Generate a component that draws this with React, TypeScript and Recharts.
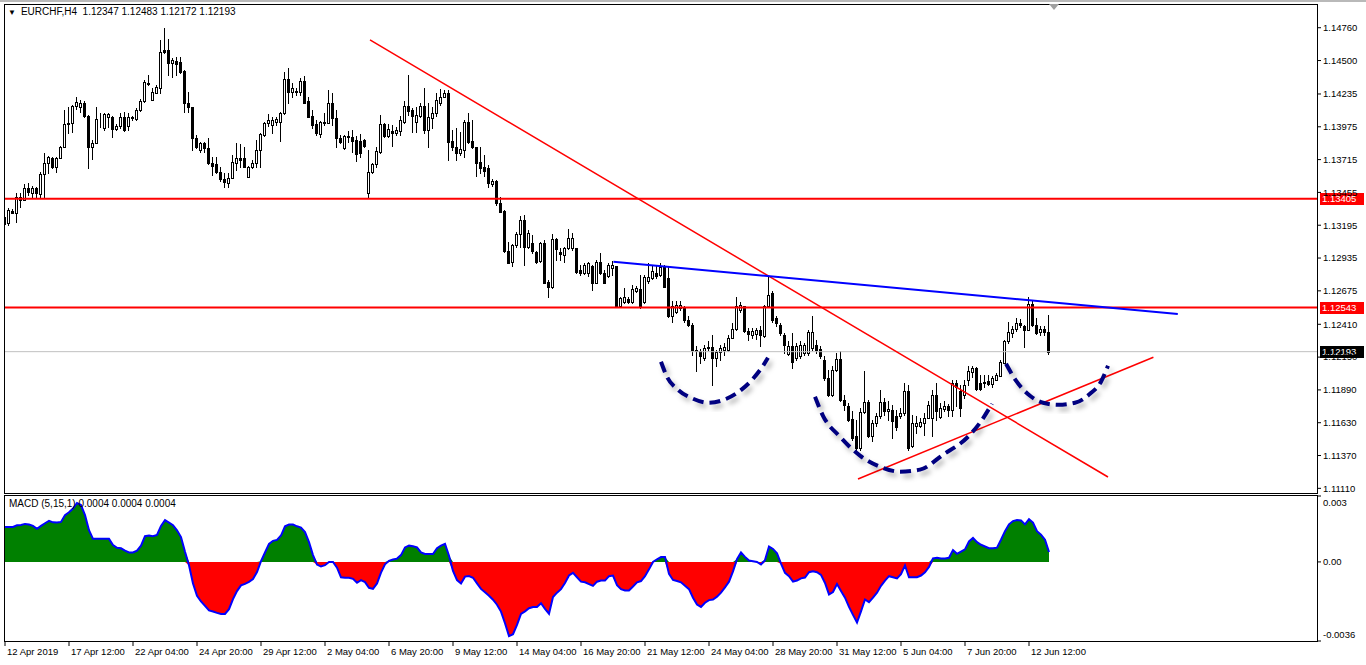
import React from "react";
import { ComposedChart, Bar, Line, Area, XAxis, YAxis, ReferenceLine } from "recharts";

const FONT = "'Liberation Sans', Arial, sans-serif";
const FS = 9.5;

// EURCHF H4 candles, bar 0 = 12 Apr 2019 20:00
const OPEN = [
  1.13206, 1.13211, 1.13311, 1.13295, 1.13422, 1.13396, 1.13489, 1.13451, 1.13491, 1.13444,
  1.13602, 1.13687, 1.13726, 1.13655, 1.13726, 1.13818, 1.14003, 1.14003, 1.14143, 1.1413,
  1.14162, 1.14061, 1.13813, 1.13845, 1.14035, 1.13964, 1.14051, 1.14051, 1.13956, 1.13982,
  1.14051, 1.13982, 1.14043, 1.14035, 1.14109, 1.14182, 1.14325, 1.14188, 1.14246, 1.14285,
  1.14584, 1.14584, 1.14479, 1.14497, 1.14491, 1.1442, 1.14162, 1.1413, 1.13885, 1.13792,
  1.13845, 1.13805, 1.13687, 1.13681, 1.13615, 1.13562, 1.13533, 1.13568, 1.13691, 1.13726,
  1.13726, 1.13581, 1.13655, 1.13691, 1.13792, 1.13911, 1.14003, 1.1399, 1.14016, 1.14016,
  1.14083, 1.14352, 1.14254, 1.14259, 1.14249, 1.14341, 1.1418, 1.14061, 1.13998, 1.13919,
  1.14016, 1.14008, 1.14162, 1.14043, 1.13885, 1.13805, 1.13903, 1.13897, 1.13871, 1.13866,
  1.13871, 1.13449, 1.13615, 1.13679, 1.13779, 1.13996, 1.13903, 1.13942, 1.13924, 1.13945,
  1.14016, 1.1414, 1.14109, 1.14016, 1.14061, 1.1414, 1.1395, 1.14048, 1.14083, 1.14162,
  1.14209, 1.14246, 1.13863, 1.13813, 1.13766, 1.13792, 1.14016, 1.13863, 1.13813, 1.13699,
  1.1366, 1.13647, 1.13523, 1.13546, 1.1337, 1.13309, 1.12987, 1.12907, 1.1304, 1.13127,
  1.13238, 1.13021, 1.13053, 1.12979, 1.12915, 1.13058, 1.12749, 1.12709, 1.13085, 1.12979,
  1.1296, 1.13013, 1.13013, 1.13013, 1.12842, 1.12815, 1.1282, 1.12868, 1.12741, 1.12907,
  1.1282, 1.12789, 1.12855, 1.12868, 1.12556, 1.12583, 1.1261, 1.12583, 1.1267, 1.12689,
  1.12583, 1.12754, 1.12776, 1.1282, 1.12802, 1.12868, 1.12776, 1.12472, 1.12511, 1.12538,
  1.12538, 1.12446, 1.12406, 1.12208, 1.12202, 1.12142, 1.12221, 1.12229, 1.12142, 1.12187,
  1.12208, 1.12208, 1.12305, 1.12372, 1.12525, 1.12551, 1.12358, 1.12327, 1.12335, 1.12366,
  1.12319, 1.12551, 1.12657, 1.12459, 1.12406, 1.12327, 1.12176, 1.12234, 1.12142, 1.12155,
  1.12182, 1.12182, 1.12221, 1.12248, 1.12213, 1.12129, 1.11984, 1.11852, 1.1205, 1.12134,
  1.11812, 1.11764, 1.11659, 1.11521, 1.11429, 1.11711, 1.11791, 1.11527, 1.11627, 1.11685,
  1.11791, 1.11719, 1.11727, 1.11685, 1.1168, 1.11707, 1.11878, 1.11442, 1.11601, 1.11601,
  1.11627, 1.11667, 1.11667, 1.11852, 1.11675, 1.11738, 1.11759, 1.11733, 1.11944, 1.11878,
  1.11852, 1.1197, 1.12028, 1.12063, 1.11944, 1.11955, 1.11957, 1.11939, 1.1197, 1.12002,
  1.12107, 1.12274, 1.1234, 1.12372, 1.12419, 1.12393, 1.12366, 1.12572, 1.12406, 1.12345,
  1.12372, 1.12347,
];

const HIGH = [
  1.13303, 1.13333, 1.13325, 1.13451, 1.13451, 1.13523, 1.13531, 1.13509, 1.13501, 1.1362,
  1.13766, 1.13744, 1.13739, 1.13739, 1.13824, 1.14109, 1.14135, 1.14148, 1.14209, 1.14188,
  1.14182, 1.14069, 1.13871, 1.1413, 1.14083, 1.14083, 1.14083, 1.14061, 1.13998, 1.14087,
  1.14095, 1.14087, 1.14061, 1.14122, 1.14194, 1.14346, 1.14386, 1.14281, 1.14307, 1.14663,
  1.14756, 1.14669, 1.14518, 1.14531, 1.14531, 1.14426, 1.14254, 1.1413, 1.13911, 1.13858,
  1.13858, 1.13885, 1.13739, 1.13739, 1.1366, 1.13612, 1.13612, 1.13752, 1.13845, 1.13837,
  1.13818, 1.13665, 1.13713, 1.13871, 1.13929, 1.14016, 1.14077, 1.14056, 1.14051, 1.14095,
  1.14412, 1.14439, 1.1432, 1.14281, 1.1436, 1.14378, 1.14214, 1.14109, 1.1403, 1.14024,
  1.14083, 1.14267, 1.14241, 1.14109, 1.13911, 1.13911, 1.13945, 1.1395, 1.13903, 1.13919,
  1.13877, 1.13792, 1.13691, 1.13818, 1.14069, 1.14003, 1.13998, 1.1399, 1.13977, 1.14061,
  1.1418, 1.14386, 1.14122, 1.14135, 1.14162, 1.14281, 1.14162, 1.1413, 1.14241, 1.14275,
  1.14267, 1.14267, 1.1395, 1.13964, 1.13937, 1.1403, 1.14083, 1.1403, 1.13818, 1.13818,
  1.13752, 1.13673, 1.1356, 1.13554, 1.13417, 1.13317, 1.13066, 1.13048, 1.13145, 1.13269,
  1.13277, 1.13158, 1.13119, 1.12987, 1.13066, 1.13079, 1.12762, 1.13127, 1.13093, 1.13013,
  1.13026, 1.13164, 1.13132, 1.13018, 1.12881, 1.12895, 1.12907, 1.12881, 1.12921, 1.12974,
  1.12842, 1.12895, 1.12915, 1.12873, 1.1263, 1.12697, 1.12625, 1.12723, 1.12715, 1.12802,
  1.12802, 1.12897, 1.12873, 1.12881, 1.12895, 1.12881, 1.12868, 1.12591, 1.12591, 1.12591,
  1.12551, 1.12472, 1.12419, 1.12234, 1.12213, 1.12248, 1.12274, 1.12327, 1.12208, 1.12248,
  1.12261, 1.12327, 1.12419, 1.1263, 1.12583, 1.12551, 1.1238, 1.1238, 1.1238, 1.12393,
  1.12564, 1.12789, 1.1267, 1.12472, 1.12419, 1.1234, 1.12274, 1.1234, 1.12261, 1.12274,
  1.12261, 1.12366, 1.12472, 1.12287, 1.12234, 1.12155, 1.1205, 1.12076, 1.12182, 1.12195,
  1.11852, 1.11786, 1.11719, 1.11654, 1.11746, 1.12036, 1.11812, 1.11654, 1.11707, 1.11891,
  1.11825, 1.11799, 1.11772, 1.11733, 1.11746, 1.11944, 1.11931, 1.11693, 1.1168, 1.11667,
  1.11707, 1.11799, 1.11891, 1.11944, 1.11786, 1.11799, 1.1178, 1.1197, 1.1197, 1.11931,
  1.1197, 1.12076, 1.12081, 1.12071, 1.1201, 1.1201, 1.1201, 1.11997, 1.12023, 1.12129,
  1.12287, 1.12432, 1.12398, 1.12459, 1.12451, 1.12406, 1.1263, 1.12604, 1.12459, 1.12393,
  1.12398, 1.12483,
];

const LOW = [
  1.13185, 1.13198, 1.13293, 1.13222, 1.13343, 1.13396, 1.13436, 1.13412, 1.13412, 1.13409,
  1.13422, 1.13607, 1.13647, 1.1362, 1.13726, 1.13818, 1.13924, 1.13932, 1.14114, 1.14095,
  1.14056, 1.13647, 1.13718, 1.13845, 1.13972, 1.1395, 1.13977, 1.13893, 1.1395, 1.13964,
  1.13945, 1.1395, 1.1403, 1.1403, 1.14103, 1.14175, 1.14307, 1.14188, 1.14241, 1.14241,
  1.14558, 1.14386, 1.14373, 1.14386, 1.14399, 1.14095, 1.14095, 1.13792, 1.13805, 1.13779,
  1.13779, 1.13681, 1.13594, 1.13607, 1.13549, 1.13501, 1.13501, 1.13568, 1.13634, 1.1366,
  1.13655, 1.13581, 1.13647, 1.1366, 1.1366, 1.13903, 1.13982, 1.13924, 1.1399, 1.13866,
  1.14077, 1.14162, 1.14214, 1.14228, 1.14228, 1.14162, 1.14051, 1.13964, 1.13911, 1.13893,
  1.1399, 1.14003, 1.1399, 1.13818, 1.13845, 1.13798, 1.13858, 1.13779, 1.13707, 1.13739,
  1.13818, 1.13409, 1.13607, 1.1366, 1.13771, 1.13897, 1.13893, 1.13824, 1.13911, 1.13911,
  1.14003, 1.14069, 1.13937, 1.13937, 1.14056, 1.13924, 1.13818, 1.13964, 1.14061, 1.14148,
  1.14209, 1.13713, 1.13792, 1.13713, 1.13752, 1.13734, 1.1385, 1.13805, 1.13586, 1.13612,
  1.13586, 1.13497, 1.13507, 1.13356, 1.13303, 1.12979, 1.12895, 1.12868, 1.13026, 1.13026,
  1.12876, 1.13013, 1.12974, 1.12895, 1.12907, 1.12736, 1.12625, 1.12697, 1.12921, 1.12921,
  1.12907, 1.13006, 1.13, 1.1282, 1.12802, 1.1281, 1.12789, 1.12678, 1.12736, 1.1281,
  1.12736, 1.12784, 1.12802, 1.12551, 1.12546, 1.12578, 1.12578, 1.12578, 1.12662, 1.12538,
  1.12578, 1.12739, 1.12768, 1.12776, 1.12789, 1.12705, 1.12467, 1.12432, 1.12499, 1.12525,
  1.12432, 1.12393, 1.12168, 1.12036, 1.12103, 1.12129, 1.12208, 1.11931, 1.12076, 1.12129,
  1.12168, 1.12202, 1.12298, 1.12366, 1.12511, 1.12345, 1.12287, 1.12301, 1.12295, 1.12234,
  1.12313, 1.12546, 1.12432, 1.12393, 1.12327, 1.12182, 1.12168, 1.12063, 1.12129, 1.12142,
  1.12168, 1.12168, 1.12208, 1.12182, 1.12142, 1.1197, 1.11838, 1.11838, 1.12036, 1.11799,
  1.11733, 1.1164, 1.11495, 1.11416, 1.11416, 1.11707, 1.11517, 1.11482, 1.11601, 1.11667,
  1.11693, 1.11654, 1.11509, 1.11574, 1.11667, 1.11693, 1.11416, 1.11437, 1.11548, 1.11596,
  1.11535, 1.11667, 1.11521, 1.11654, 1.11667, 1.11719, 1.11685, 1.11685, 1.11759, 1.11685,
  1.11825, 1.11931, 1.11992, 1.11891, 1.11891, 1.11917, 1.11931, 1.11917, 1.11965, 1.11997,
  1.12103, 1.12261, 1.12313, 1.12353, 1.12388, 1.12229, 1.12361, 1.12398, 1.12335, 1.12327,
  1.12327, 1.12172,
];

const CLOSE = [
  1.13264, 1.13317, 1.13295, 1.13422, 1.13396, 1.13489, 1.13457, 1.13491, 1.13451, 1.13602,
  1.13687, 1.13734, 1.1366, 1.13726, 1.13818, 1.13996, 1.13996, 1.14143, 1.1417, 1.14162,
  1.14061, 1.13818, 1.13845, 1.14035, 1.14038, 1.14075, 1.14075, 1.13956, 1.13982, 1.14051,
  1.1395, 1.14051, 1.14051, 1.14109, 1.14182, 1.14333, 1.14312, 1.14254, 1.14293, 1.14571,
  1.14571, 1.14479, 1.14505, 1.14471, 1.14412, 1.14162, 1.1413, 1.13885, 1.13818, 1.13845,
  1.13805, 1.13687, 1.13665, 1.1362, 1.1356, 1.13541, 1.13568, 1.13695, 1.13726, 1.13713,
  1.1366, 1.1366, 1.13691, 1.13792, 1.13916, 1.14008, 1.1403, 1.1403, 1.14035, 1.14087,
  1.14352, 1.14254, 1.14281, 1.14249, 1.14341, 1.14167, 1.14056, 1.1399, 1.13924, 1.14016,
  1.14003, 1.14162, 1.14043, 1.13885, 1.13858, 1.13903, 1.13893, 1.13866, 1.1376, 1.13766,
  1.13824, 1.13615, 1.13679, 1.13784, 1.13996, 1.13903, 1.13956, 1.13924, 1.1395, 1.1403,
  1.1414, 1.14101, 1.14061, 1.14069, 1.1414, 1.1395, 1.14051, 1.14083, 1.14188, 1.14209,
  1.14241, 1.13858, 1.13813, 1.13766, 1.13798, 1.14016, 1.13858, 1.13813, 1.13691, 1.13652,
  1.13628, 1.13528, 1.13546, 1.1337, 1.13303, 1.12987, 1.12899, 1.1304, 1.13127, 1.13238,
  1.13026, 1.13132, 1.12987, 1.12907, 1.13058, 1.12741, 1.12709, 1.13085, 1.13006, 1.12966,
  1.13013, 1.13093, 1.13093, 1.12828, 1.12815, 1.12881, 1.12895, 1.12741, 1.12907, 1.12815,
  1.12741, 1.12881, 1.12881, 1.12556, 1.12617, 1.12625, 1.12583, 1.12689, 1.12697, 1.12556,
  1.12784, 1.12784, 1.12834, 1.12789, 1.12863, 1.12709, 1.12472, 1.12551, 1.12564, 1.12564,
  1.12446, 1.12406, 1.12208, 1.12195, 1.12155, 1.12221, 1.12229, 1.12142, 1.1219, 1.12221,
  1.12229, 1.12305, 1.12372, 1.12551, 1.12564, 1.12353, 1.12335, 1.12353, 1.12366, 1.12327,
  1.12551, 1.12644, 1.12446, 1.12419, 1.1234, 1.12248, 1.1224, 1.12115, 1.1224, 1.12248,
  1.12248, 1.12345, 1.12345, 1.12208, 1.12155, 1.11984, 1.11852, 1.1205, 1.12134, 1.11812,
  1.11772, 1.11654, 1.11509, 1.11429, 1.11711, 1.11791, 1.11527, 1.11627, 1.11685, 1.11791,
  1.11719, 1.11738, 1.1164, 1.11596, 1.11707, 1.11878, 1.11429, 1.11627, 1.11627, 1.11632,
  1.11667, 1.11772, 1.11852, 1.11719, 1.11746, 1.11759, 1.11727, 1.11944, 1.11917, 1.11746,
  1.11931, 1.12036, 1.12063, 1.11897, 1.11897, 1.11944, 1.11939, 1.11984, 1.1201, 1.12115,
  1.12274, 1.12345, 1.12372, 1.12419, 1.12406, 1.12366, 1.12572, 1.12406, 1.1234, 1.12372,
  1.12345, 1.12193,
];

// MACD (5,15,1) main line, one value per bar
const MACD = [
  0.00159, 0.00159, 0.00159, 0.00167, 0.00168, 0.00173, 0.0017, 0.00164, 0.00151, 0.00164,
  0.00176, 0.00187, 0.0018, 0.00179, 0.00182, 0.00213, 0.00226, 0.00243, 0.00268, 0.00259,
  0.00213, 0.00144, 0.00105, 0.00105, 0.00105, 0.00105, 0.00105, 0.00077, 0.00064, 0.00062,
  0.00051, 0.00043, 0.00043, 0.00051, 0.00074, 0.00117, 0.0012, 0.00117, 0.00123, 0.00164,
  0.0019, 0.00179, 0.00167, 0.00144, 0.00113, 0.00046, -0.00015, -0.00098, -0.00154, -0.0018,
  -0.002, -0.00221, -0.00226, -0.00232, -0.00237, -0.00237, -0.00215, -0.00169, -0.00133, -0.00107,
  -0.001, -0.00091, -0.00078, -0.00046, 0.00003, 0.00043, 0.00082, 0.00096, 0.001, 0.0012,
  0.00162, 0.0017, 0.0017, 0.00162, 0.00156, 0.00136, 0.0009, 0.00031, -0.00012, -0.00021,
  -0.00015, 0, 0, -0.00026, -0.0007, -0.00072, -0.00072, -0.00077, -0.00095, -0.00083,
  -0.00092, -0.00118, -0.00123, -0.00098, -0.00049, -0.00011, 0.00005, 0.00011, 0.00015, 0.00031,
  0.00066, 0.00074, 0.00071, 0.00066, 0.00043, 0.00036, 0.00036, 0.00036, 0.00062, 0.00074,
  0.00082, 0.00028, -0.00041, -0.00083, -0.00098, -0.00067, -0.00064, -0.00072, -0.00098, -0.00123,
  -0.00138, -0.00154, -0.00172, -0.00195, -0.00226, -0.00279, -0.00338, -0.00329, -0.00287, -0.00237,
  -0.00225, -0.00211, -0.00205, -0.00205, -0.00188, -0.00214, -0.00236, -0.0016, -0.0014, -0.00124,
  -0.00096, -0.00062, -0.0005, -0.0007, -0.0009, -0.00093, -0.00101, -0.00109, -0.0009, -0.00085,
  -0.00085, -0.00065, -0.00062, -0.00106, -0.00124, -0.0013, -0.0013, -0.00112, -0.00093, -0.00087,
  -0.00065, -0.00034, 0, 0.00012, 0.00022, 0.00022, -0.00054, -0.00082, -0.00087, -0.00093,
  -0.00109, -0.00124, -0.00163, -0.00194, -0.00205, -0.00186, -0.00174, -0.00171, -0.00158, -0.0014,
  -0.00116, -0.0009, -0.00043, 0.00012, 0.00043, 0.00023, 0.00006, 0.00003, 0, -0.00012,
  0.00008, 0.0007, 0.00059, 0.00039, -0.00008, -0.0005, -0.00065, -0.0009, -0.00085, -0.00075,
  -0.00071, -0.00047, -0.00043, -0.00047, -0.00059, -0.00096, -0.00148, -0.00137, -0.00101, -0.00132,
  -0.00163, -0.00205, -0.00241, -0.00276, -0.00225, -0.00171, -0.00183, -0.00163, -0.0014, -0.00109,
  -0.00085, -0.00065, -0.0007, -0.00075, -0.00056, -0.00016, -0.0007, -0.0007, -0.0007, -0.00062,
  -0.00047, -0.00023, 0.00016, 0.00019, 0.00016, 0.00016, 0.00019, 0.00054, 0.00037, 0.00047,
  0.00057, 0.00093, 0.00109, 0.0009, 0.00078, 0.0007, 0.00062, 0.00062, 0.00065, 0.00101,
  0.0014, 0.00171, 0.00186, 0.00191, 0.00189, 0.00171, 0.00194, 0.00179, 0.0014, 0.00124,
  0.00101, 0.00045,
];

const TIME_LABELS = [
  "12 Apr 2019", "17 Apr 12:00", "22 Apr 04:00", "24 Apr 20:00", "29 Apr 12:00", "2 May 04:00",
  "6 May 20:00", "9 May 12:00", "14 May 04:00", "16 May 20:00", "21 May 12:00", "24 May 04:00",
  "28 May 20:00", "31 May 12:00", "5 Jun 04:00", "7 Jun 20:00", "12 Jun 12:00",
];
const TIME_TICKS = TIME_LABELS.map((_, k) => k * 16);

const PRICE_TICKS = [
  1.1476, 1.145, 1.14235, 1.13975, 1.13715, 1.13455, 1.13195, 1.12935, 1.12675, 1.1241,
  1.1215, 1.1189, 1.1163, 1.1137, 1.1111,
];
const MACD_TICKS = [0.003, 0, -0.0036];

const SUPPORT_LEVELS = [1.13405, 1.12543];
const LAST_PRICE = 1.12193;

// trend lines drawn on the chart: bar index / price pairs
const DOWN_TREND = [{ x: 91.25, y: 1.14663 }, { x: 275.75, y: 1.112 }];
const NECKLINE = [{ x: 152.1, y: 1.12906 }, { x: 293.2, y: 1.12492 }];
const UP_TREND = [{ x: 213.25, y: 1.11184 }, { x: 287.1, y: 1.12149 }];

// hand-drawn cup arcs (bar index, price)
const ARC_LEFT = [
  { i: 164, p: 1.12113 }, { i: 165.5, p: 1.11994 }, { i: 168.25, p: 1.11891 }, { i: 172, p: 1.1182 },
  { i: 175.75, p: 1.11788 }, { i: 179.75, p: 1.11812 }, { i: 183.75, p: 1.11883 }, { i: 187, p: 1.11978 },
  { i: 189.5, p: 1.12081 }, { i: 190.75, p: 1.12145 },
];
const ARC_MID = [
  { i: 202.5, p: 1.11836 }, { i: 204.5, p: 1.11685 }, { i: 208.75, p: 1.11519 }, { i: 213.75, p: 1.11369 },
  { i: 218.75, p: 1.11281 }, { i: 223.75, p: 1.11242 }, { i: 228.75, p: 1.11258 }, { i: 234.5, p: 1.11376 },
  { i: 240.5, p: 1.11511 }, { i: 243.75, p: 1.1163 }, { i: 246.75, p: 1.1178 },
];
const ARC_RIGHT = [
  { i: 250.25, p: 1.12097 }, { i: 252.75, p: 1.11963 }, { i: 256.25, p: 1.11844 }, { i: 259.5, p: 1.11788 },
  { i: 263.25, p: 1.11772 }, { i: 267.5, p: 1.11788 }, { i: 271.25, p: 1.11859 }, { i: 274, p: 1.11955 },
  { i: 275.75, p: 1.12081 },
];

const X_DOMAIN: [number, number] = [-0.25, 328];

const candleRows = OPEN.map((o, i) => ({
  i,
  o,
  h: HIGH[i],
  l: LOW[i],
  c: CLOSE[i],
  range: [LOW[i], HIGH[i]],
}));

const macdRows = MACD.map((m, i) => ({ i, m, pos: Math.max(m, 0), neg: Math.min(m, 0) }));

function Candle(props: any) {
  const { x, y, width, height, payload } = props;
  if (x == null || !payload) return null;
  const { o, h, l, c } = payload;
  const cx = Math.floor(x + width / 2);
  const k = h === l ? 0 : height / (h - l);
  const yOf = (v: number) => y + (h - v) * k;
  const top = Math.round(yOf(Math.max(o, c)));
  const bot = Math.round(yOf(Math.min(o, c)));
  return (
    <g>
      <line x1={cx + 0.5} x2={cx + 0.5} y1={Math.round(y)} y2={Math.round(y + height) + 1} stroke="#000" strokeWidth={1} />
      <rect
        x={cx - 0.5}
        y={top + 0.5}
        width={2}
        height={Math.max(bot - top, 0)}
        fill={c >= o ? "#fff" : "#000"}
        stroke="#000"
        strokeWidth={1}
      />
    </g>
  );
}

const priceTag = (value: number, bg: string) => (props: any) => {
  const vb = props.viewBox || {};
  const x = (vb.x || 0) + (vb.width || 0) + 3;
  const y = Math.round(vb.y || 0);
  return (
    <g>
      <rect x={x} y={y - 6} width={44} height={12} fill={bg} />
      <text x={x + 2} y={y} dy="0.36em" fill="#fff" fontSize={FS} fontFamily={FONT}>
        {value.toFixed(5)}
      </text>
    </g>
  );
};

function TimeTick(props: any) {
  const { x, y, payload } = props;
  const k = TIME_TICKS.indexOf(payload.value);
  return (
    <text x={x + 2} y={y} dy="0.71em" textAnchor="start" fontSize={FS} fill="#000" fontFamily={FONT}>
      {TIME_LABELS[k]}
    </text>
  );
}

function MacdTick(props: any) {
  const { x, y, payload } = props;
  const v = payload.value;
  const label = v === 0 ? "0.00" : v === 0.003 ? "0.003" : "-0.0036";
  const shift = v > 0 ? 7 : v < 0 ? -6 : 0;
  return (
    <text x={x} y={y + shift} dy="0.35em" textAnchor="start" fontSize={FS} fill="#000" fontFamily={FONT}>
      {label}
    </text>
  );
}

const arcStyle = {
  stroke: "#000080",
  strokeWidth: 4,
  strokeDasharray: "11 6",
  dot: false,
  type: "monotone" as const,
  isAnimationActive: false,
  filter: "url(#arcShadow)",
};

export default function App() {
  return (
    <div
      style={{
        position: "absolute",
        left: 0,
        top: 0,
        width: 1366,
        height: 665,
        background: "#fff",
        overflow: "hidden",
        fontFamily: FONT,
        borderTop: "2px solid #b9b9b9",
        boxSizing: "border-box",
      }}
    >
      <div style={{ position: "absolute", left: 0, top: -2 }}>
        <ComposedChart width={1366} height={495} data={candleRows} margin={{ top: 4, right: 0, bottom: 3, left: 4 }}>
          <defs>
            <filter id="arcShadow" x="-20%" y="-20%" width="140%" height="140%">
              <feDropShadow dx="3" dy="4" stdDeviation="2.5" floodColor="#000" floodOpacity="0.3" />
            </filter>
          </defs>
          <XAxis dataKey="i" type="number" domain={X_DOMAIN} allowDataOverflow hide />
          <YAxis
            orientation="right"
            width={49}
            domain={[1.11081, 1.14948]}
            allowDataOverflow
            ticks={PRICE_TICKS}
            interval={0}
            tickFormatter={(v: number) => v.toFixed(5)}
            axisLine={false}
            tickLine={{ stroke: "#000" }}
            tickSize={4}
            tickMargin={2}
            tick={{ fontSize: FS, fill: "#000", fontFamily: FONT }}
          />
          <ReferenceLine y={LAST_PRICE} stroke="#c0c0c0" strokeWidth={1} label={priceTag(LAST_PRICE, "#000")} />
          <Bar dataKey="range" barSize={3} shape={<Candle />} isAnimationActive={false} />
          {SUPPORT_LEVELS.map((v) => (
            <ReferenceLine key={v} y={v} stroke="#ff0000" strokeWidth={2} label={priceTag(v, "#ff0000")} />
          ))}
          <ReferenceLine segment={DOWN_TREND} stroke="#ff0000" strokeWidth={1.5} />
          <ReferenceLine segment={NECKLINE} stroke="#0000ff" strokeWidth={2} />
          <ReferenceLine segment={UP_TREND} stroke="#ff0000" strokeWidth={1.5} />
          <Line data={ARC_LEFT} dataKey="p" {...arcStyle} />
          <Line data={ARC_MID} dataKey="p" {...arcStyle} />
          <Line data={ARC_RIGHT} dataKey="p" {...arcStyle} />
        </ComposedChart>
      </div>

      <div style={{ position: "absolute", left: 0, top: 493 }}>
        <ComposedChart width={1366} height={170} data={macdRows} margin={{ top: 1, right: 0, bottom: 0, left: 4 }}>
          <XAxis
            dataKey="i"
            type="number"
            domain={X_DOMAIN}
            allowDataOverflow
            ticks={TIME_TICKS}
            interval={0}
            height={24}
            axisLine={false}
            tickLine={{ stroke: "#000" }}
            tickSize={5}
            tickMargin={2}
            tick={<TimeTick />}
          />
          <YAxis
            orientation="right"
            width={49}
            domain={[-0.0036, 0.003]}
            allowDataOverflow
            ticks={MACD_TICKS}
            interval={0}
            axisLine={false}
            tickLine={{ stroke: "#000" }}
            tickSize={4}
            tickMargin={2}
            tick={<MacdTick />}
          />
          <Area dataKey="pos" type="linear" baseValue={0} fill="#008000" fillOpacity={1} stroke="none" isAnimationActive={false} />
          <Area dataKey="neg" type="linear" baseValue={0} fill="#ff0000" fillOpacity={1} stroke="none" isAnimationActive={false} />
          <Line dataKey="m" type="linear" stroke="#0000ff" strokeWidth={2} dot={false} isAnimationActive={false} />
        </ComposedChart>
      </div>

      {/* panel frames */}
      <div style={{ position: "absolute", left: 4, top: 2, width: 1314, height: 490, border: "1px solid #000", boxSizing: "border-box", pointerEvents: "none" }} />
      <div style={{ position: "absolute", left: 4, top: 493, width: 1314, height: 147, border: "1px solid #000", boxSizing: "border-box", pointerEvents: "none" }} />

      {/* chart header texts */}
      <div style={{ position: "absolute", left: 8, top: 4, fontSize: 10, color: "#000", whiteSpace: "pre", lineHeight: "12px" }}>
        <span style={{ fontSize: 8, marginRight: 5 }}>▼</span>
        {"EURCHF,H4  1.12347 1.12483 1.12172 1.12193"}
      </div>
      <div style={{ position: "absolute", left: 9, top: 496, fontSize: 10, color: "#000", whiteSpace: "pre", lineHeight: "12px" }}>
        {"MACD (5,15,1) 0.0004 0.0004 0.0004"}
      </div>
      {/* chart-shift marker */}
      <div
        style={{
          position: "absolute",
          left: 1049,
          top: 2,
          width: 0,
          height: 0,
          borderLeft: "5px solid transparent",
          borderRight: "5px solid transparent",
          borderTop: "6px solid #a0a0a0",
        }}
      />
    </div>
  );
}
